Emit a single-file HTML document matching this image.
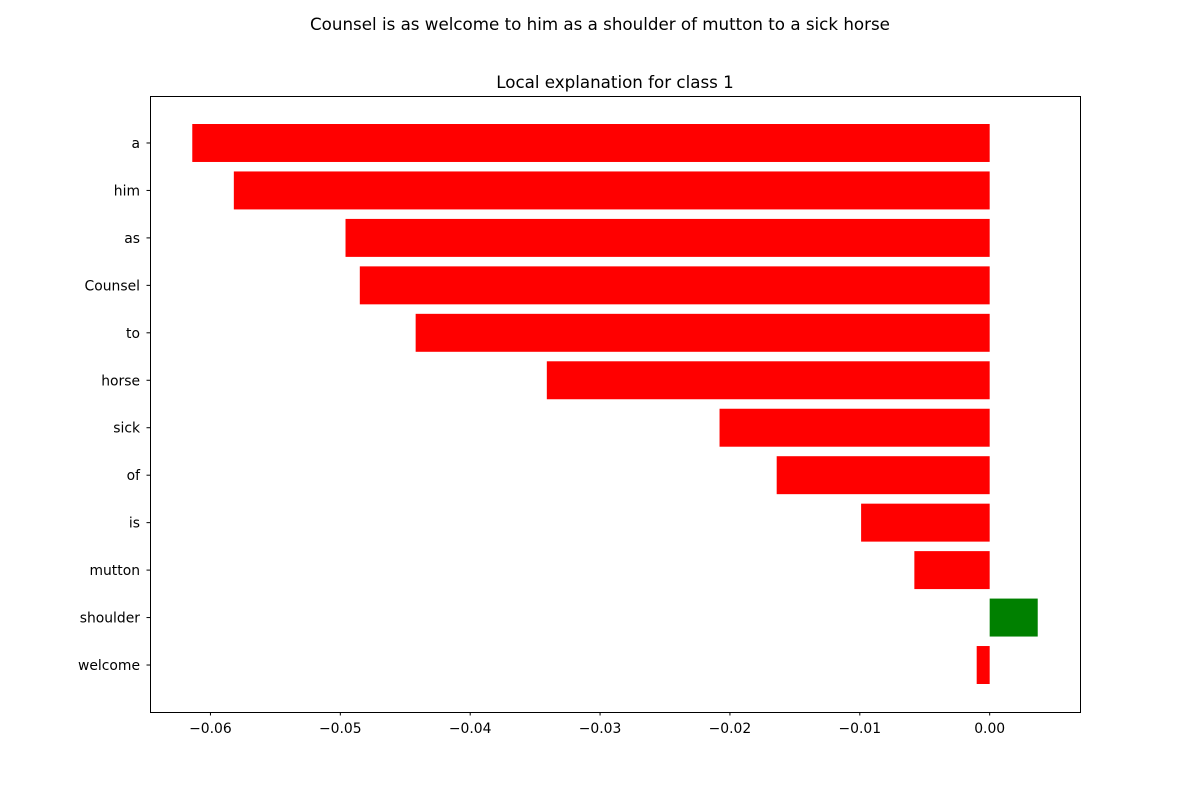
<!DOCTYPE html>
<html><head><meta charset="utf-8"><style>
body{margin:0;background:#fff;}
svg text{font-family:"DejaVu Sans","Liberation Sans",sans-serif;fill:#000;}
</style></head><body>
<svg id="chart" width="1200" height="800" xmlns="http://www.w3.org/2000/svg">
<text x="600" y="30" font-size="16.7" text-anchor="middle">Counsel is as welcome to him as a shoulder of mutton to a sick horse</text>
<text x="615" y="88" font-size="16.7" text-anchor="middle">Local explanation for class 1</text>
<g id="bars"></g>
<g id="yticks"></g>
<g id="xticks"></g>
<rect x="150.5" y="96.5" width="930" height="616" fill="none" stroke="#000" stroke-width="1"/>
</svg>
<script>
const labels = ["welcome","shoulder","mutton","is","of","sick","horse","horse2","to","Counsel","as","him","a"].filter(l=>l!=="horse2");
const values = [-0.0010,0.0037,-0.0058,-0.0099,-0.0164,-0.0208,-0.0341,-0.0442,-0.0485,-0.0496,-0.0582,-0.0614];
const xTicks = [-0.06,-0.05,-0.04,-0.03,-0.02,-0.01,0.00];
const tickLabels = ["−0.06","−0.05","−0.04","−0.03","−0.02","−0.01","0.00"];
const L=150,R=1080,T=96,B=712;
const vmin=Math.min(0,...values), vmax=Math.max(0,...values), m=(vmax-vmin)*0.05;
const x0=vmin-m, x1=vmax+m;
const X=v=>L+(v-x0)/(x1-x0)*(R-L);
const n=values.length, y0=-0.4-0.59, y1=n-1+0.4+0.59;
const Y=i=>B-(i-y0)/(y1-y0)*(B-T);
const NS="http://www.w3.org/2000/svg";
const bars=document.getElementById('bars'), yt=document.getElementById('yticks'), xt=document.getElementById('xticks');
values.forEach((v,i)=>{
  const r=document.createElementNS(NS,'rect');
  const a=X(Math.min(0,v)), b=X(Math.max(0,v)), top=Y(i+0.4), bot=Y(i-0.4);
  r.setAttribute('x',a);r.setAttribute('width',b-a);r.setAttribute('y',top);r.setAttribute('height',bot-top);
  r.setAttribute('fill',v>0?'#008000':'#ff0000');
  
  
  bars.appendChild(r);
  const ln=document.createElementNS(NS,'line');
  ln.setAttribute('x1',L-3.5);ln.setAttribute('x2',L);ln.setAttribute('y1',Y(i));ln.setAttribute('y2',Y(i));ln.setAttribute('stroke','#000');
  
  
  yt.appendChild(ln);
  const t=document.createElementNS(NS,'text');
  t.setAttribute('x',L-10);t.setAttribute('y',Y(i)+5);t.setAttribute('font-size','13.9');t.setAttribute('text-anchor','end');
  t.textContent=labels[i];
  
  
  yt.appendChild(t);
});
xTicks.forEach((v,i)=>{
  const ln=document.createElementNS(NS,'line');
  ln.setAttribute('x1',X(v));ln.setAttribute('x2',X(v));ln.setAttribute('y1',B);ln.setAttribute('y2',B+3.5);ln.setAttribute('stroke','#000');
  
  
  xt.appendChild(ln);
  const t=document.createElementNS(NS,'text');
  t.setAttribute('x',X(v));t.setAttribute('y',B+21);t.setAttribute('font-size','13.9');t.setAttribute('text-anchor','middle');
  t.textContent=tickLabels[i];
  
  
  xt.appendChild(t);
});
</script>
</body></html>
